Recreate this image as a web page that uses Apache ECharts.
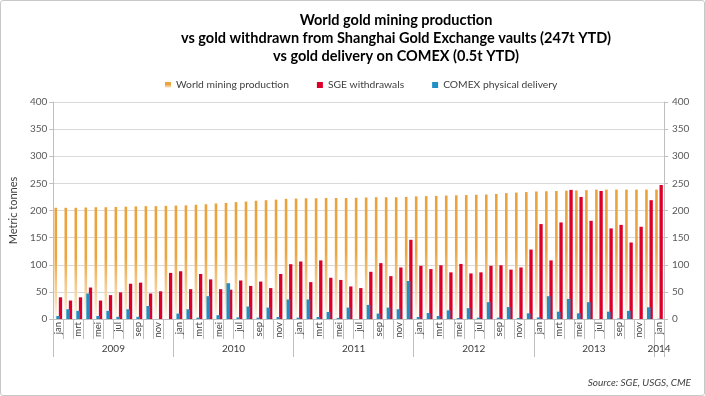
<!DOCTYPE html>
<html><head><meta charset="utf-8">
<script src="https://cdn.jsdelivr.net/npm/echarts@6/dist/echarts.min.js"></script>
<style>
html,body{margin:0;padding:0;background:#fff}
#wrap{position:relative;width:705px;height:396px}
#c{position:absolute;left:0;top:0;width:705px;height:396px}
#frame{position:absolute;left:0;top:0;width:705px;height:396px;box-sizing:border-box;border:1px solid #c9c9c9;border-radius:3px;pointer-events:none}
</style>
</head><body>
<div id="wrap"><div id="c"></div><div id="frame"></div></div>
<script>
// ---- data ----
const monthNames = ['jan','feb','mrt','apr','mei','jun','jul','aug','sep','okt','nov','dec'];
const years = ['2009','2010','2011','2012','2013','2014'];

const mining = [
  205,205,205,205.5,206,206,206.5,207,207.5,208,208,208.5,
  209,209.5,210.5,211.5,213,214,215.5,216.5,218,219,220,221.5,
  222,222.5,222.5,223,223,223,223.5,224,224.5,224.5,224.5,225,
  226,226.5,227,227.5,228,228.5,229,229.5,230.5,232,233,234,
  235,235.5,236,236.5,237,237.5,238.5,238.5,238.5,238.5,238.5,238.5,
  238.5
];
const sge = [
  40,34,40,58,34,44,49,65,67,47,51,85,
  88,55,83,73,55,54,71,61,69,57,83,101,
  106,68,108,76,72,60,57,87,103,79,95,146,
  98,92,99,86,101.5,84,86,98,99,91,95,128,
  175,108,178,238,225,181,236,167,173.5,141,170,219,
  247
];
const comex = [
  5.5,18,15,47,5.5,15,4,18,4,24,0,0,
  10,18,2.5,42,7,66,3,23,2.5,21,3.7,36,
  2.5,36,3.7,13,2,21,0,26,10,21,18,70,
  3.7,11,5.5,16,1.8,20,2.5,31,2.5,22,2,10.5,
  3,42,13.5,37,10.5,31,0,13.5,1,15,0,21.5,
  0.5
];

// categories
const nCat = mining.length;
const catMonths = [];
const catYears = [];
for (let i = 0; i < nCat; i++) {
  catMonths.push(monthNames[i % 12]);
  catYears.push(years[Math.floor(i / 12)]);
}

const FONT = 'Lato';
const chart = echarts.init(document.getElementById('c'), null, {renderer: 'canvas'});

const orangeGrad = new echarts.graphic.LinearGradient(0, 0, 0, 1, [
  {offset: 0, color: '#EBA23A'},
  {offset: 0.45, color: '#ECA641'},
  {offset: 0.85, color: '#F9E0BB'},
  {offset: 1, color: '#FFFBF5'}
]);

const option = {
  backgroundColor: '#fff',
  textStyle: {fontFamily: FONT},
  animation: false,
  title: [
    {
      text: 'World gold mining production\nvs gold withdrawn from Shanghai Gold Exchange vaults (247t YTD)\nvs gold delivery on COMEX (0.5t YTD)',
      left: 391, top: 6, textAlign: 'center',
      textStyle: {fontFamily: FONT, fontSize: 14.5, fontWeight: 'bold', color: '#000', lineHeight: 18}
    },
    {
      text: 'Source: SGE, USGS, CME',
      right: 9, bottom: 3,
      textStyle: {fontFamily: FONT, fontSize: 10, fontStyle: 'italic', fontWeight: 'normal', color: '#404040'}
    }
  ],
  legend: {
    data: ['World mining production', 'SGE withdrawals', 'COMEX physical delivery'],
    left: 160, top: 75,
    icon: 'rect', itemWidth: 6, itemHeight: 6, itemGap: 28,
    textStyle: {fontFamily: FONT, fontSize: 10.3, color: '#404040'}
  },
  grid: {left: 52, right: 41, top: 102, bottom: 77},
  xAxis: [
    {
      type: 'category', data: catMonths, position: 'bottom',
      axisLine: {show: true, lineStyle: {color: '#BFBFBF'}},
      axisTick: {show: true, interval: 0, length: 20, lineStyle: {color: '#BFBFBF'}},
      axisLabel: {interval: 1, rotate: 90, margin: 3, fontSize: 9.5, color: '#404040', fontFamily: FONT},
      splitLine: {show: false}
    },
    {
      type: 'category', data: catYears, position: 'bottom', offset: 0,
      axisLine: {show: false},
      axisTick: {show: true, length: 38, lineStyle: {color: '#BFBFBF'},
        interval: function (index) { return index % 12 === 0; }},
      axisLabel: {
        interval: 0, margin: 25, fontSize: 10, color: '#404040', fontFamily: FONT,
        formatter: function (value, index) {
          if (index % 12 === 5) return '{a|' + value + '}';
          if (index === nCat - 1 && index % 12 === 0) return value;
          return '';
        },
        rich: {a: {padding: [0, 0, 0, 10], fontSize: 10, color: '#404040', fontFamily: FONT}}
      },
      splitLine: {show: false}
    }
  ],
  yAxis: [
    {
      type: 'value', min: 0, max: 400, interval: 50,
      name: 'Metric tonnes', nameLocation: 'middle', nameGap: 29,
      nameTextStyle: {fontFamily: FONT, fontSize: 11, color: '#404040'},
      axisLine: {show: true, lineStyle: {color: '#BFBFBF'}},
      axisTick: {show: true, length: 4, lineStyle: {color: '#BFBFBF'}},
      axisLabel: {fontSize: 10, color: '#595959', margin: 6, fontFamily: FONT},
      splitLine: {show: true, lineStyle: {color: '#D9D9D9'}}
    },
    {
      type: 'value', min: 0, max: 400, interval: 50, position: 'right',
      axisLine: {show: true, lineStyle: {color: '#BFBFBF'}},
      axisTick: {show: true, length: 4, lineStyle: {color: '#BFBFBF'}},
      axisLabel: {fontSize: 10, color: '#595959', margin: 8, fontFamily: FONT},
      splitLine: {show: false}
    }
  ],
  series: [
    {
      name: 'World mining production', type: 'bar', data: mining,
      barWidth: 2.6, barGap: '-30%', z: 2,
      itemStyle: {color: orangeGrad}
    },
    {
      name: 'COMEX physical delivery', type: 'bar', data: comex,
      barWidth: 3.6, barGap: '-30%', z: 4,
      itemStyle: {color: '#1F8FC5'}
    },
    {
      name: 'SGE withdrawals', type: 'bar', data: sge,
      barWidth: 3.3, barGap: '-30%', z: 3,
      itemStyle: {color: '#DC0028'}
    }
  ]
};
chart.setOption(option);
</script>
</body></html>
